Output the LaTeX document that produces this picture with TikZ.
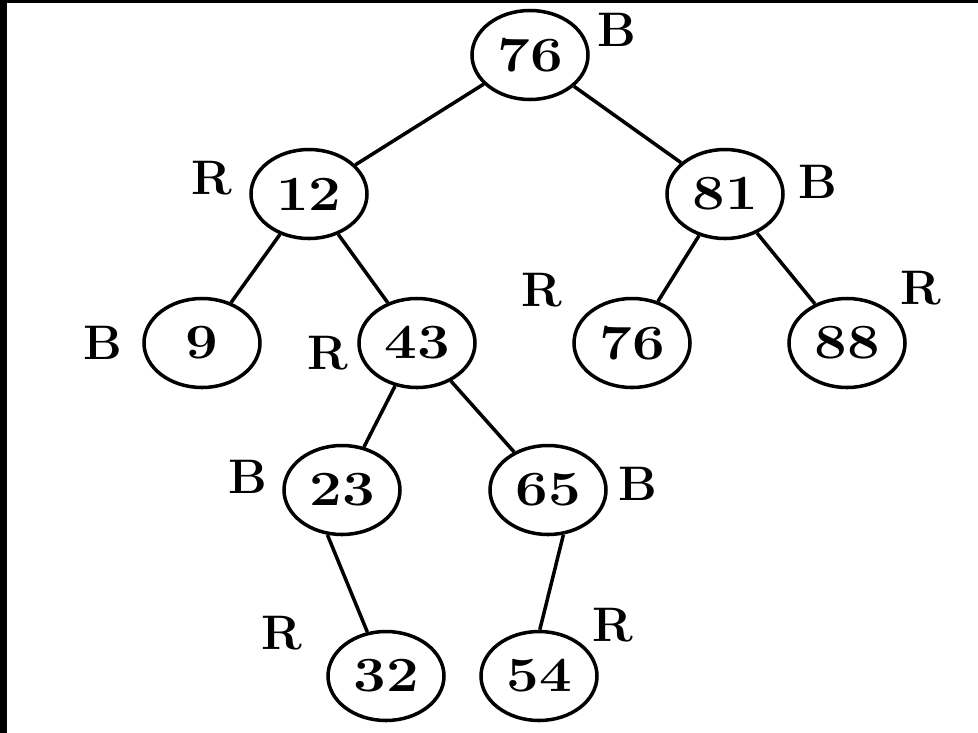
\documentclass[tikz,border=0pt]{standalone}
\usepackage{graphicx}
\usetikzlibrary{shapes.geometric}
\newcommand{\wide}[1]{\scalebox{1.18}[1]{#1}}
\begin{document}
\begin{tikzpicture}[line width=1pt,
        vtx/.style={ellipse, draw, minimum width=1.16cm, minimum height=0.89cm, inner sep=0pt, font=\fontsize{14}{17}\selectfont\bfseries},
        col/.style={inner sep=0pt, font=\fontsize{13.8}{17}\selectfont\bfseries}]
        \useasboundingbox (0, 0) rectangle (9.78, 7.32); % page size fix
        \fill[white] (-0.2, -0.2) rectangle (10, 7.5);
        \fill[black] (-0.2, -0.2) rectangle (0.07, 7.5);
        \fill[black] (-0.2, 7.29) rectangle (10, 7.5);
        \node[vtx] (r76) at (5.30, 6.77) {\wide{76}};
        \node[vtx] (n12) at (3.09, 5.38) {\wide{12}};
        \node[vtx] (n81) at (7.25, 5.38) {\wide{81}};
        \node[vtx] (n9) at (2.02, 3.89) {\wide{9}};
        \node[vtx] (n43) at (4.17, 3.89) {\wide{43}};
        \node[vtx] (n76) at (6.32, 3.89) {\wide{76}};
        \node[vtx] (n88) at (8.47, 3.89) {\wide{88}};
        \node[vtx] (n23) at (3.42, 2.42) {\wide{23}};
        \node[vtx] (n65) at (5.48, 2.42) {\wide{65}};
        \node[vtx] (n32) at (3.86, 0.56) {\wide{32}};
        \node[vtx] (n54) at (5.39, 0.56) {\wide{54}};
        \node[col] (cr76) at (6.17, 7.02) {B};
        \node[col] (cn12) at (2.12, 5.54) {R};
        \node[col] (cn81) at (8.18, 5.50) {B};
        \node[col] (cn9) at (1.03, 3.89) {B};
        \node[col] (cn43) at (3.28, 3.79) {R};
        \node[col] (cn76) at (5.42, 4.42) {R};
        \node[col] (cn88) at (9.21, 4.44) {R};
        \node[col] (cn23) at (2.48, 2.55) {B};
        \node[col] (cn65) at (6.38, 2.48) {B};
        \node[col] (cn32) at (2.82, 0.99) {R};
        \node[col] (cn54) at (6.13, 1.07) {R};
        \draw (r76) -- (n12);
        \draw (r76) -- (n81);
        \draw (n12) -- (n9);
        \draw (n12) -- (n43);
        \draw (n81) -- (n76);
        \draw (n81) -- (n88);
        \draw (n43) -- (n23);
        \draw (n43) -- (n65);
        \draw (n23.252) -- (n32.113);
        \draw (n65.289) -- (n54.89);
    \end{tikzpicture}
\end{document}
